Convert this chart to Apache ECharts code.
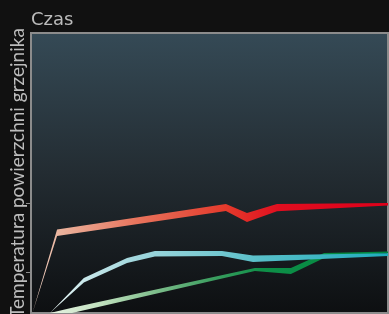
<!DOCTYPE html>
<html>
<head>
<meta charset="utf-8">
<script src="https://cdn.jsdelivr.net/npm/echarts@6/dist/echarts.min.js"></script>
<style>
html, body { margin: 0; padding: 0; background: #111111; }
#chart { width: 389px; height: 314px; }
</style>
</head>
<body>
<div id="chart"></div>
<script>
// punkty wstęg (czas, górna krawędź, dolna krawędź)
var redX = [0.4, 7.3, 54.6, 60.5, 68.9, 100];
var redHi = [0, 29.8, 38.9, 35.7, 38.9, 39.3];
var redLo = [0, 27.5, 36.4, 32.5, 36.3, 38.4];

var cyanX = [5.3, 14.8, 26.9, 34.7, 53.5, 62.2, 100];
var cyanHi = [0, 12.5, 19.6, 22.1, 22.1, 20.5, 21.3];
var cyanLo = [0, 10.9, 17.9, 20.2, 20.4, 18.2, 20.4];

var greenX = [5.3, 11.5, 62.7, 72.8, 82.1, 100];
var greenHi = [0, 1.9, 16.1, 16.1, 21.4, 22.0];
var greenLo = [0, 0, 15.0, 13.9, 19.6, 21.4];

var yTicks = [14.6, 39.3];

var redStops = [[0, '#f4dccf'], [0.08, '#eab39d'], [0.3, '#e8735c'], [0.55, '#e4392b'], [0.7, '#e00d1f'], [1, '#e0001a']];
var cyanStops = [[0.05, '#eaf5f3'], [0.15, '#c8e7ea'], [0.3, '#9fd6dc'], [0.5, '#79cad2'], [0.65, '#56bec8'], [1, '#20adbd']];
var greenStops = [[0.05, '#e8f3e3'], [0.2, '#bfe0bd'], [0.35, '#7dbd8b'], [0.5, '#3fa062'], [0.65, '#0e8f48'], [1, '#00863e']];

function zip(xs, hi, lo) {
	var out = [];
	for (var i = 0; i < xs.length; i++) out.push([xs[i], hi[i], lo[i]]);
	return out;
}

// jedna wstęga = jeden wielokąt
function ribbon(stops) {
	return function (params, api) {
		if (params.dataIndexInside !== 0) return null;
		var n = params.dataInsideLength;
		var top = [], bottom = [];
		for (var j = 0; j < n; j++) {
			top.push(api.coord([api.value(0, j), api.value(1, j)]));
			bottom.unshift(api.coord([api.value(0, j), api.value(2, j)]));
		}
		var x0 = api.coord([0, 0])[0];
		var x1 = api.coord([100, 0])[0];
		return {
			type: 'polygon',
			shape: { points: top.concat(bottom) },
			style: {
				fill: new echarts.graphic.LinearGradient(x0, 0, x1, 0,
					stops.map(function (s) { return { offset: s[0], color: s[1] }; }), true),
				stroke: null
			}
		};
	};
}

var chart = echarts.init(document.getElementById('chart'));
chart.setOption({
	backgroundColor: '#111111',
	animation: false,
	title: {
		text: 'Czas',
		left: 26,
		top: 6,
		textStyle: { color: '#bcbcbc', fontSize: 18, fontWeight: 'normal', fontFamily: 'DejaVu Sans' }
	},
	grid: {
		left: 31, right: 1, top: 33, bottom: 1,
		outerBoundsMode: 'none',
		containLabel: false,
		show: true,
		backgroundColor: new echarts.graphic.LinearGradient(0, 0, 0, 1, [
			{ offset: 0, color: '#354a56' },
			{ offset: 0.5, color: '#232c32' },
			{ offset: 1, color: '#0d0f11' }
		]),
		borderColor: '#8c8c8c',
		borderWidth: 2
	},
	xAxis: {
		type: 'value', min: 0, max: 100,
		axisLine: { show: false }, axisTick: { show: false },
		axisLabel: { show: false }, splitLine: { show: false }
	},
	yAxis: {
		type: 'value', min: 0, max: 100,
		name: 'Temperatura powierzchni grzejnika',
		nameLocation: 'middle',
		nameGap: 4,
		nameTextStyle: { color: '#bcbcbc', fontSize: 19, fontFamily: 'Lato' },
		axisLine: { show: false },
		axisTick: { show: true, customValues: yTicks, length: 5, lineStyle: { color: '#8c8c8c' } },
		axisLabel: { show: false },
		splitLine: { show: false }
	},
	series: [
		{ type: 'custom', renderItem: ribbon(greenStops), data: zip(greenX, greenHi, greenLo) },
		{ type: 'custom', renderItem: ribbon(cyanStops), data: zip(cyanX, cyanHi, cyanLo) },
		{ type: 'custom', renderItem: ribbon(redStops), data: zip(redX, redHi, redLo) }
	]
});
</script>
</body>
</html>
